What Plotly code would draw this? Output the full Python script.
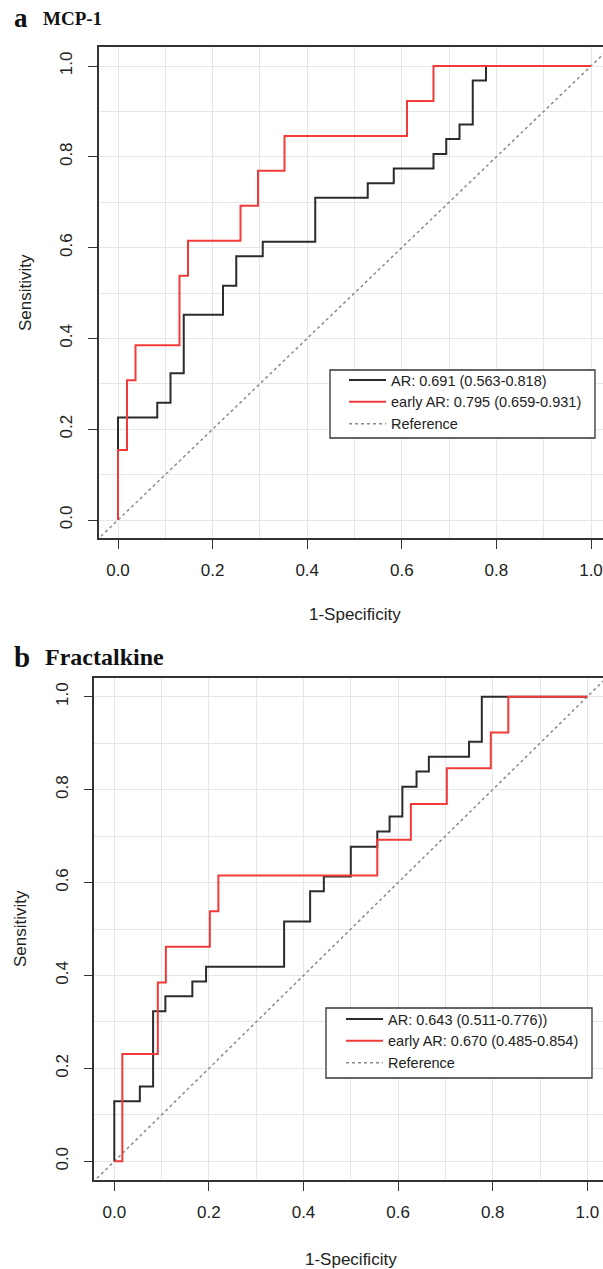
import plotly.graph_objects as go

# ---------------- data ----------------
# Panel a: MCP-1  (ROC step corners: end of each horizontal run)
a_ar_fpr = [0.0, 0.083, 0.111, 0.139, 0.222, 0.250, 0.306, 0.417, 0.528, 0.583, 0.667, 0.694, 0.722, 0.750, 0.778, 1.0]
a_ar_tpr = [0.0, 0.226, 0.258, 0.323, 0.452, 0.516, 0.581, 0.613, 0.710, 0.742, 0.774, 0.806, 0.839, 0.871, 0.968, 1.0]
a_early_fpr = [0.0, 0.019, 0.037, 0.130, 0.148, 0.259, 0.296, 0.352, 0.611, 0.667, 1.0]
a_early_tpr = [0.0, 0.154, 0.308, 0.385, 0.538, 0.615, 0.692, 0.769, 0.846, 0.923, 1.0]

# Panel b: Fractalkine
b_ar_fpr = [0.0, 0.054, 0.082, 0.108, 0.165, 0.194, 0.359, 0.414, 0.443, 0.500, 0.556, 0.582, 0.609, 0.639, 0.665, 0.750, 0.777, 1.0]
b_ar_tpr = [0.0, 0.129, 0.161, 0.323, 0.355, 0.387, 0.419, 0.516, 0.581, 0.613, 0.677, 0.710, 0.742, 0.806, 0.839, 0.871, 0.903, 1.0]
b_early_fpr = [0.0, 0.017, 0.092, 0.109, 0.202, 0.220, 0.556, 0.627, 0.703, 0.796, 0.833, 1.0]
b_early_tpr = [0.0, 0.0, 0.231, 0.385, 0.462, 0.538, 0.615, 0.692, 0.769, 0.846, 0.923, 1.0]

ref_line = [-0.1, 1.1]

a_labels = ["AR: 0.691 (0.563-0.818)", "early AR: 0.795 (0.659-0.931)", "Reference"]
b_labels = ["AR: 0.643 (0.511-0.776))", "early AR: 0.670 (0.485-0.854)", "Reference"]
panel_letters = ["a", "b"]
panel_titles = ["MCP-1", "Fractalkine"]

tick_vals = [0.0, 0.2, 0.4, 0.6, 0.8, 1.0]
tick_text = ["0.0", "0.2", "0.4", "0.6", "0.8", "1.0"]
x_title = "1-Specificity"
y_title = "Sensitivity"

# ---------------- styling ----------------
W, H = 603, 1269
BLACK = "#2b2b2b"
RED = "#f23a3a"
GREY = "#8a8a8a"
GRID = "#e6e6e6"
SANS = "Liberation Sans, Arial, sans-serif"
SERIF = "Liberation Serif, Times New Roman, serif"

fig = go.Figure()

def add_panel(xa, ya, leg, fpr1, tpr1, fpr2, tpr2, labels):
    fig.add_trace(go.Scatter(x=ref_line, y=ref_line, mode="lines", name=labels[2],
                             line=dict(color=GREY, width=1.5, dash="dot"),
                             xaxis=xa, yaxis=ya, legend=leg, legendrank=3))
    fig.add_trace(go.Scatter(x=fpr1, y=tpr1, mode="lines", name=labels[0],
                             line=dict(color=BLACK, width=2, shape="vh"),
                             xaxis=xa, yaxis=ya, legend=leg, legendrank=1))
    fig.add_trace(go.Scatter(x=fpr2, y=tpr2, mode="lines", name=labels[1],
                             line=dict(color=RED, width=2, shape="vh"),
                             xaxis=xa, yaxis=ya, legend=leg, legendrank=2))

add_panel("x", "y", "legend", a_ar_fpr, a_ar_tpr, a_early_fpr, a_early_tpr, a_labels)
add_panel("x2", "y2", "legend2", b_ar_fpr, b_ar_tpr, b_early_fpr, b_early_tpr, b_labels)

def axis(domain, rng, anchor, is_y):
    d = dict(domain=domain, range=rng, anchor=anchor,
             showline=True, linecolor="#333333", linewidth=1.5,
             mirror=(not is_y), ticks="outside", ticklen=9, tickwidth=1.3, tickcolor="#333333",
             tickvals=tick_vals, ticktext=tick_text,
             tickfont=dict(family=SANS, size=17, color="#222222"),
             showgrid=True, gridcolor=GRID, gridwidth=1, zeroline=False,
             minor=dict(dtick=0.1, tick0=0, showgrid=True, gridcolor=GRID, gridwidth=1, ticks=""),
             fixedrange=True)
    if is_y:
        d.update(tickangle=-90, ticklabelstandoff=9)
    else:
        d.update(ticklabelstandoff=7)
    return d

def px2x(p):
    return p / W

def py2y(p):
    return 1 - p / H

# panel a: x0 at 118, x1 at 591 ; y0 at 520, y1 at 66
ax_a = axis([px2x(99), 1.0], [-(118 - 99) / 473, (603 - 118) / 473], "y", False)
ay_a = axis([py2y(538), py2y(47)], [-(538 - 520) / 454, 1 + (66 - 47) / 454], "x", True)
# panel b: x0 at 114.3, x1 at 587.3 ; y0 at 1161.3, y1 at 696.7
ax_b = axis([px2x(94.3), 1.0], [-(114.3 - 94.3) / 473, (603 - 114.3) / 473], "y2", False)
ay_b = axis([py2y(1180), py2y(678.3)], [-(1180 - 1161.3) / 464.6, 1 + (696.7 - 678.3) / 464.6], "x2", True)

leg_common = dict(xanchor="left", yanchor="top", bgcolor="rgba(0,0,0,0)", borderwidth=0,
                  font=dict(family=SANS, size=14.5, color="#222222"),
                  tracegroupgap=0, itemwidth=37)

# legend frames (white boxes with dark border)
shapes = [
    dict(type="rect", xref="paper", yref="paper", x0=px2x(330), x1=px2x(595), y0=py2y(438), y1=py2y(370),
         line=dict(color="#333333", width=1.3), fillcolor="white", layer="above"),
    dict(type="rect", xref="paper", yref="paper", x0=px2x(326), x1=px2x(592), y0=py2y(1078), y1=py2y(1008),
         line=dict(color="#333333", width=1.3), fillcolor="white", layer="above"),
]

annotations = []
for letter, title, ypx, lsize, tsize, tx in [(panel_letters[0], panel_titles[0], 18, 27, 19, 41),
                                             (panel_letters[1], panel_titles[1], 657, 29, 24, 43)]:
    annotations.append(dict(text="<b>%s</b>" % letter, x=px2x(12), y=py2y(ypx), xref="paper", yref="paper",
                            xanchor="left", yanchor="middle", showarrow=False,
                            font=dict(family=SERIF, size=lsize, color="#111111")))
    annotations.append(dict(text="<b>%s</b>" % title, x=px2x(tx), y=py2y(ypx), xref="paper", yref="paper",
                            xanchor="left", yanchor="middle", showarrow=False,
                            font=dict(family=SERIF, size=tsize, color="#111111")))
for xref, yref, xt_y, yt_x in [("x", "y", 614, 26), ("x2", "y2", 1259, 20)]:
    annotations.append(dict(text=x_title, x=0.5, xref=xref, y=py2y(xt_y), yref="paper",
                            xanchor="center", yanchor="middle", showarrow=False,
                            font=dict(family=SANS, size=17, color="#222222")))
    annotations.append(dict(text=y_title, x=px2x(yt_x), xref="paper", y=0.5, yref=yref,
                            xanchor="center", yanchor="middle", showarrow=False, textangle=-90,
                            font=dict(family=SANS, size=17, color="#222222")))

fig.update_layout(
    width=W, height=H, margin=dict(l=0, r=0, t=0, b=0),
    paper_bgcolor="white", plot_bgcolor="white",
    xaxis=ax_a, yaxis=ay_a, xaxis2=ax_b, yaxis2=ay_b,
    legend=dict(x=px2x(344), y=py2y(364), **leg_common),
    legend2=dict(x=px2x(341), y=py2y(1003), **leg_common),
    shapes=shapes,
    annotations=annotations,
    showlegend=True,
)

fig.write_html("out.html")
